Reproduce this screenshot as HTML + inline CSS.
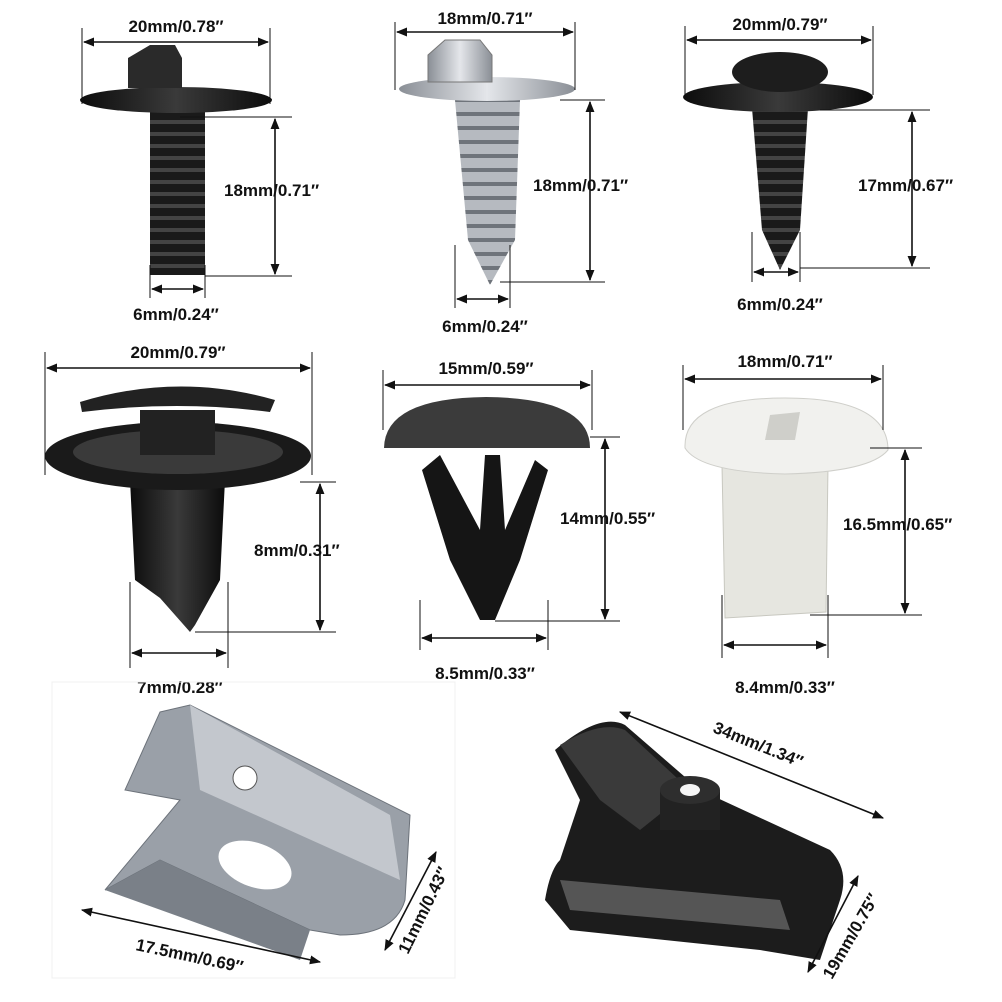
<!DOCTYPE html>
<html><head><meta charset="utf-8"><style>
html,body{margin:0;padding:0;background:#fff}
svg{display:block}
text{font-family:"Liberation Sans",Arial,sans-serif;font-size:17px;font-weight:bold;fill:#111}
.d{stroke:#111;stroke-width:1.6;fill:none}
.e{stroke:#111;stroke-width:1;fill:none}
</style></head><body>
<svg width="1002" height="1002" viewBox="0 0 1002 1002" xmlns="http://www.w3.org/2000/svg">
<defs>
<marker id="a" viewBox="0 0 10 10" refX="9" refY="5" markerWidth="7" markerHeight="7" orient="auto-start-reverse"><path d="M0,1 L10,5 L0,9 z" fill="#111"/></marker>
<linearGradient id="blk" x1="0" x2="1"><stop offset="0" stop-color="#0c0c0c"/><stop offset=".5" stop-color="#3a3a3a"/><stop offset="1" stop-color="#0c0c0c"/></linearGradient>
<linearGradient id="slv" x1="0" x2="1"><stop offset="0" stop-color="#8a8f96"/><stop offset=".5" stop-color="#e4e6ea"/><stop offset="1" stop-color="#8a8f96"/></linearGradient>
<pattern id="thr" width="10" height="12" patternUnits="userSpaceOnUse"><rect width="10" height="12" fill="#1a1a1a"/><rect y="0" width="10" height="4" fill="#444"/></pattern>
<pattern id="thrs" width="10" height="14" patternUnits="userSpaceOnUse"><rect width="10" height="14" fill="#b6bac0"/><rect y="0" width="10" height="4" fill="#6f747b"/></pattern>
</defs>

<!-- Bolt 1 -->
<rect x="150" y="110" width="55" height="165" fill="url(#thr)"/>
<ellipse cx="176" cy="100" rx="96" ry="13" fill="url(#blk)"/>
<path d="M128,88 L128,58 L150,45 L175,45 L182,58 L182,88 Z" fill="#2a2a2a"/>
<line class="e" x1="82" y1="28" x2="82" y2="104"/><line class="e" x1="270" y1="28" x2="270" y2="104"/>
<line class="d" x1="84" y1="42" x2="268" y2="42" marker-start="url(#a)" marker-end="url(#a)"/>
<text x="176" y="32" text-anchor="middle">20mm/0.78″</text>
<line class="e" x1="180" y1="117" x2="292" y2="117"/><line class="e" x1="205" y1="276" x2="292" y2="276"/>
<line class="d" x1="275" y1="119" x2="275" y2="274" marker-start="url(#a)" marker-end="url(#a)"/>
<text x="224" y="196">18mm/0.71″</text>
<line class="e" x1="150" y1="265" x2="150" y2="298"/><line class="e" x1="205" y1="265" x2="205" y2="298"/>
<line class="d" x1="152" y1="289" x2="203" y2="289" marker-start="url(#a)" marker-end="url(#a)"/>
<text x="176" y="320" text-anchor="middle">6mm/0.24″</text>

<!-- Screw 2 -->
<path d="M455,100 L520,100 L515,240 L490,285 L468,240 Z" fill="url(#thrs)"/>
<ellipse cx="487" cy="89" rx="88" ry="12" fill="url(#slv)"/>
<path d="M428,82 L428,55 L445,40 L480,40 L492,55 L492,82 Z" fill="url(#slv)" stroke="#777"/>
<line class="e" x1="395" y1="22" x2="395" y2="90"/><line class="e" x1="575" y1="22" x2="575" y2="90"/>
<line class="d" x1="397" y1="32" x2="573" y2="32" marker-start="url(#a)" marker-end="url(#a)"/>
<text x="485" y="24" text-anchor="middle">18mm/0.71″</text>
<line class="e" x1="560" y1="100" x2="605" y2="100"/><line class="e" x1="500" y1="282" x2="605" y2="282"/>
<line class="d" x1="590" y1="102" x2="590" y2="280" marker-start="url(#a)" marker-end="url(#a)"/>
<text x="533" y="191">18mm/0.71″</text>
<line class="e" x1="455" y1="245" x2="455" y2="308"/><line class="e" x1="510" y1="245" x2="510" y2="308"/>
<line class="d" x1="457" y1="299" x2="508" y2="299" marker-start="url(#a)" marker-end="url(#a)"/>
<text x="485" y="332" text-anchor="middle">6mm/0.24″</text>

<!-- Screw 3 -->
<path d="M752,108 L808,108 L800,230 L780,270 L762,230 Z" fill="url(#thr)"/>
<ellipse cx="778" cy="97" rx="95" ry="15" fill="url(#blk)"/>
<ellipse cx="780" cy="72" rx="48" ry="20" fill="#1d1d1d"/>
<line class="e" x1="685" y1="26" x2="685" y2="95"/><line class="e" x1="873" y1="26" x2="873" y2="95"/>
<line class="d" x1="687" y1="40" x2="871" y2="40" marker-start="url(#a)" marker-end="url(#a)"/>
<text x="780" y="30" text-anchor="middle">20mm/0.79″</text>
<line class="e" x1="820" y1="110" x2="930" y2="110"/><line class="e" x1="800" y1="268" x2="930" y2="268"/>
<line class="d" x1="912" y1="112" x2="912" y2="266" marker-start="url(#a)" marker-end="url(#a)"/>
<text x="858" y="191">17mm/0.67″</text>
<line class="e" x1="752" y1="232" x2="752" y2="282"/><line class="e" x1="800" y1="232" x2="800" y2="282"/>
<line class="d" x1="754" y1="272" x2="798" y2="272" marker-start="url(#a)" marker-end="url(#a)"/>
<text x="780" y="310" text-anchor="middle">6mm/0.24″</text>

<!-- Push clip -->
<path d="M130,480 L225,480 L220,580 L195,625 L190,632 L160,598 L135,580 Z" fill="url(#blk)"/>
<ellipse cx="178" cy="456" rx="133" ry="34" fill="#1a1a1a"/>
<ellipse cx="178" cy="452" rx="105" ry="22" fill="#3a3a3a"/>
<rect x="140" y="410" width="75" height="45" fill="#222"/>
<path d="M80,402 Q178,372 275,400 L270,412 Q178,400 82,412 Z" fill="#222"/>
<line class="e" x1="45" y1="352" x2="45" y2="475"/><line class="e" x1="312" y1="352" x2="312" y2="475"/>
<line class="d" x1="47" y1="368" x2="310" y2="368" marker-start="url(#a)" marker-end="url(#a)"/>
<text x="178" y="358" text-anchor="middle">20mm/0.79″</text>
<line class="e" x1="300" y1="482" x2="336" y2="482"/><line class="e" x1="195" y1="632" x2="336" y2="632"/>
<line class="d" x1="320" y1="484" x2="320" y2="630" marker-start="url(#a)" marker-end="url(#a)"/>
<text x="254" y="556">8mm/0.31″</text>
<line class="e" x1="130" y1="582" x2="130" y2="668"/><line class="e" x1="228" y1="582" x2="228" y2="668"/>
<line class="d" x1="132" y1="653" x2="226" y2="653" marker-start="url(#a)" marker-end="url(#a)"/>
<text x="180" y="693" text-anchor="middle">7mm/0.28″</text>

<!-- Fir tree -->
<path d="M384,448 Q385,398 486,397 Q590,398 590,448 Z" fill="#3b3b3b"/>
<path d="M422,470 L440,455 L480,530 L485,455 L500,455 L505,530 L535,460 L548,470 L520,560 L495,620 L480,620 L450,560 Z" fill="#151515"/>
<line class="e" x1="383" y1="370" x2="383" y2="430"/><line class="e" x1="592" y1="370" x2="592" y2="430"/>
<line class="d" x1="385" y1="385" x2="590" y2="385" marker-start="url(#a)" marker-end="url(#a)"/>
<text x="486" y="374" text-anchor="middle">15mm/0.59″</text>
<line class="e" x1="590" y1="437" x2="620" y2="437"/><line class="e" x1="495" y1="621" x2="620" y2="621"/>
<line class="d" x1="605" y1="439" x2="605" y2="619" marker-start="url(#a)" marker-end="url(#a)"/>
<text x="560" y="524">14mm/0.55″</text>
<line class="e" x1="420" y1="600" x2="420" y2="650"/><line class="e" x1="548" y1="600" x2="548" y2="650"/>
<line class="d" x1="422" y1="638" x2="546" y2="638" marker-start="url(#a)" marker-end="url(#a)"/>
<text x="485" y="679" text-anchor="middle">8.5mm/0.33″</text>

<!-- White nut -->
<path d="M722,465 L828,465 L826,612 L725,618 Z" fill="#e6e6e0" stroke="#c8c8c0"/>
<path d="M685,448 Q683,398 785,398 Q888,398 888,450 Q870,472 785,474 Q700,472 685,448 Z" fill="#f1f1ee" stroke="#cfcfca"/>
<path d="M770,415 L800,412 L795,440 L765,440 Z" fill="#cfcfca"/>
<line class="e" x1="683" y1="365" x2="683" y2="430"/><line class="e" x1="883" y1="365" x2="883" y2="430"/>
<line class="d" x1="685" y1="379" x2="881" y2="379" marker-start="url(#a)" marker-end="url(#a)"/>
<text x="785" y="367" text-anchor="middle">18mm/0.71″</text>
<line class="e" x1="870" y1="448" x2="922" y2="448"/><line class="e" x1="810" y1="615" x2="922" y2="615"/>
<line class="d" x1="905" y1="450" x2="905" y2="613" marker-start="url(#a)" marker-end="url(#a)"/>
<text x="843" y="530">16.5mm/0.65″</text>
<line class="e" x1="722" y1="595" x2="722" y2="658"/><line class="e" x1="828" y1="595" x2="828" y2="658"/>
<line class="d" x1="724" y1="645" x2="826" y2="645" marker-start="url(#a)" marker-end="url(#a)"/>
<text x="785" y="693" text-anchor="middle">8.4mm/0.33″</text>

<!-- Silver U clip -->
<rect x="52" y="682" width="403" height="296" fill="none" stroke="#f0f0f0"/>
<path d="M160,712 L190,705 L410,815 L405,900 Q395,935 340,935 L310,930 L160,860 L105,890 L180,800 L125,790 Z" fill="#9aa0a8" stroke="#6c727a"/>
<path d="M190,705 L390,815 L400,880 L200,790 Z" fill="#c3c7cd"/>
<path d="M105,890 L160,860 L310,930 L300,960 Z" fill="#7a8088"/>
<ellipse cx="255" cy="865" rx="38" ry="22" fill="#fff" transform="rotate(20 255 865)"/>
<circle cx="245" cy="778" r="12" fill="#fff" stroke="#555"/>
<line class="d" x1="82" y1="910" x2="320" y2="962" marker-start="url(#a)" marker-end="url(#a)"/>
<text transform="translate(135,950) rotate(12)">17.5mm/0.69″</text>
<line class="d" x1="436" y1="852" x2="385" y2="950" marker-start="url(#a)" marker-end="url(#a)"/>
<text transform="translate(408,955) rotate(-64)">11mm/0.43″</text>

<!-- Black clip -->
<path d="M555,750 Q600,712 625,725 L700,790 L830,850 Q850,870 840,900 L820,960 L760,950 L570,930 L545,900 Q550,870 560,860 L580,800 Z" fill="#1c1c1c"/>
<path d="M560,745 Q600,720 625,730 L690,790 L640,830 L600,800 Z" fill="#3a3a3a"/>
<rect x="660" y="790" width="60" height="40" fill="#222"/>
<ellipse cx="690" cy="790" rx="30" ry="14" fill="#2e2e2e"/>
<ellipse cx="690" cy="790" rx="10" ry="6" fill="#f5f5f5"/>
<path d="M560,880 L780,900 L790,930 L570,910 Z" fill="#fff" opacity=".25"/>
<line class="d" x1="620" y1="712" x2="883" y2="818" marker-start="url(#a)" marker-end="url(#a)"/>
<text transform="translate(712,732) rotate(22)">34mm/1.34″</text>
<line class="d" x1="858" y1="876" x2="808" y2="972" marker-start="url(#a)" marker-end="url(#a)"/>
<text transform="translate(832,980) rotate(-60)">19mm/0.75″</text>
</svg>
</body></html>
